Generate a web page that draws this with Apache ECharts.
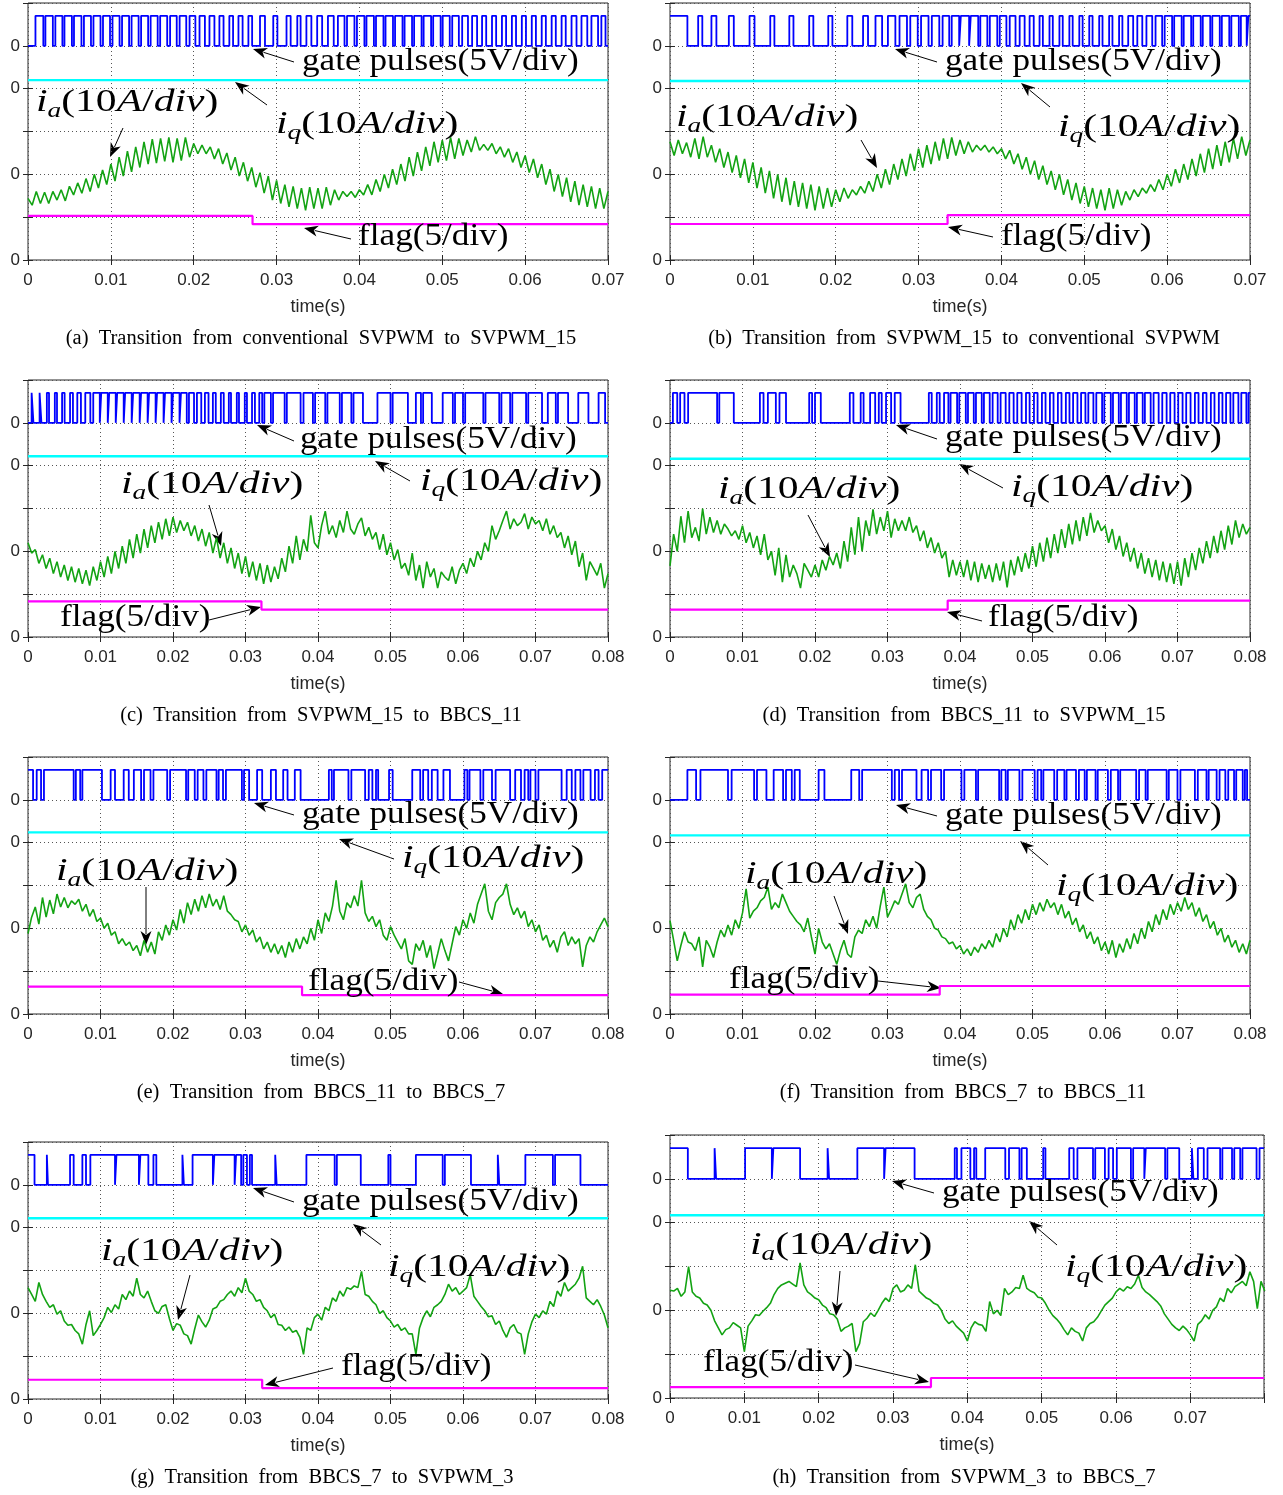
<!DOCTYPE html>
<html>
<head>
<meta charset="utf-8">
<script src="https://cdn.jsdelivr.net/npm/echarts/dist/echarts.min.js"></script>
<style>
html, body { margin: 0; padding: 0; background: #fff; }
#chart { width: 1283px; height: 1495px; }
</style>
</head>
<body>
<div id="chart"></div>
<script>
// sample step of the phase current traces (s)
var ia_dt = 0.0005;

// phase current ia, in divisions, one value every 0.5 ms
var iaA = [0.72,0.64,0.80,0.66,0.79,0.66,0.80,0.70,0.82,0.69,
  0.86,0.76,0.90,0.78,0.95,0.80,1.00,0.84,1.05,0.88,
  1.12,0.92,1.20,0.98,1.27,1.03,1.32,1.08,1.38,1.12,
  1.41,1.13,1.42,1.15,1.43,1.14,1.42,1.16,1.43,1.20,
  1.36,1.24,1.34,1.24,1.32,1.18,1.30,1.12,1.25,1.05,
  1.20,0.98,1.14,0.92,1.08,0.85,1.02,0.78,0.98,0.70,
  0.93,0.66,0.88,0.62,0.86,0.60,0.84,0.58,0.85,0.60,
  0.84,0.60,0.85,0.64,0.82,0.70,0.80,0.74,0.80,0.73,
  0.82,0.76,0.88,0.76,0.94,0.80,1.00,0.84,1.06,0.88,
  1.12,0.92,1.20,0.98,1.26,1.04,1.32,1.10,1.38,1.14,
  1.40,1.16,1.43,1.18,1.42,1.22,1.40,1.26,1.44,1.28,
  1.35,1.28,1.36,1.24,1.32,1.20,1.30,1.14,1.26,1.08,
  1.22,1.02,1.18,0.96,1.12,0.88,1.06,0.80,1.00,0.74,
  0.96,0.68,0.92,0.64,0.88,0.62,0.86,0.60,0.84,0.60,
  0.80];
var iaB = [1.38,1.22,1.40,1.24,1.37,1.20,1.42,1.18,1.44,1.20,
  1.34,1.14,1.30,1.08,1.26,1.02,1.22,0.96,1.18,0.90,
  1.14,0.84,1.08,0.78,1.04,0.72,1.00,0.68,0.96,0.64,
  0.92,0.62,0.90,0.60,0.88,0.58,0.86,0.60,0.84,0.62,
  0.82,0.68,0.84,0.72,0.82,0.76,0.86,0.78,0.92,0.80,
  1.00,0.84,1.06,0.88,1.12,0.94,1.18,0.98,1.24,1.04,
  1.30,1.08,1.34,1.12,1.38,1.16,1.42,1.18,1.43,1.22,
  1.40,1.24,1.38,1.26,1.34,1.28,1.34,1.26,1.32,1.24,
  1.30,1.18,1.28,1.12,1.24,1.06,1.20,1.00,1.16,0.94,
  1.10,0.88,1.04,0.82,1.00,0.76,0.94,0.70,0.90,0.66,
  0.86,0.62,0.84,0.60,0.82,0.58,0.84,0.60,0.82,0.64,
  0.80,0.70,0.82,0.74,0.84,0.78,0.88,0.80,0.94,0.82,
  1.00,0.86,1.06,0.90,1.12,0.94,1.18,0.98,1.24,1.02,
  1.30,1.06,1.34,1.10,1.38,1.14,1.42,1.18,1.44,1.22,
  1.40];
var iaC = [1.10,0.98,1.02,0.86,0.96,0.80,0.92,0.74,0.88,0.70,
  0.84,0.66,0.82,0.64,0.80,0.62,0.78,0.60,0.82,0.66,
  0.88,0.70,0.94,0.74,1.00,0.80,1.06,0.86,1.14,0.92,
  1.20,0.98,1.26,1.04,1.30,1.10,1.34,1.14,1.38,1.18,
  1.40,1.22,1.36,1.24,1.34,1.18,1.30,1.12,1.26,1.06,
  1.22,0.98,1.16,0.92,1.10,0.86,1.04,0.80,0.98,0.74,
  0.94,0.70,0.88,0.66,0.86,0.62,0.84,0.64,0.82,0.68,
  0.92,0.76,1.06,0.86,1.18,0.90,1.14,1.00,1.42,1.10,
  1.04,1.30,1.47,1.20,1.30,1.16,1.36,1.22,1.47,1.26,
  1.20,1.32,1.39,1.18,1.28,1.14,1.22,1.02,1.20,0.96,
  1.10,0.90,1.02,0.80,0.86,0.72,0.98,0.66,0.84,0.57,
  0.88,0.70,0.80,0.57,0.76,0.70,0.66,0.82,0.62,0.78,
  0.86,0.74,0.92,0.82,1.00,0.90,1.10,1.00,1.30,1.14,
  1.24,1.36,1.47,1.26,1.38,1.30,1.34,1.44,1.26,1.40,
  1.32,1.36,1.24,1.38,1.20,1.30,1.16,1.22,1.04,1.18,
  0.96,1.12,0.82,0.98,0.66,0.88,0.80,0.72,0.86,0.57,
  0.74];
var iaD = [0.83,1.20,1.00,1.41,1.10,1.47,1.16,1.28,1.12,1.50,
  1.20,1.40,1.22,1.36,1.20,1.32,1.26,1.18,1.24,1.14,
  1.30,1.10,1.22,1.04,1.18,0.96,1.20,0.90,1.00,0.72,
  1.04,0.64,0.96,0.70,0.84,0.74,0.57,0.86,0.78,0.70,
  0.84,0.70,0.90,0.78,0.94,0.84,0.98,0.80,1.12,0.88,
  1.28,0.96,1.40,1.00,1.36,1.18,1.49,1.20,1.40,1.24,
  1.47,1.16,1.38,1.24,1.36,1.24,1.40,1.22,1.30,1.12,
  1.24,1.04,1.16,0.98,1.10,0.92,1.00,0.70,0.90,0.72,
  0.88,0.70,0.90,0.66,0.88,0.64,0.86,0.68,0.84,0.64,
  0.86,0.66,0.88,0.58,0.90,0.72,0.94,0.76,0.98,0.80,
  1.06,0.82,1.10,0.88,1.16,0.92,1.20,0.98,1.26,1.04,
  1.32,1.08,1.36,1.12,1.40,1.18,1.45,1.22,1.36,1.24,
  1.30,1.10,1.26,1.02,1.18,0.94,1.10,0.88,1.04,0.80,
  0.98,0.74,0.92,0.70,0.90,0.66,0.88,0.64,0.86,0.62,
  0.88,0.60,0.92,0.70,0.98,0.78,1.04,0.86,1.12,0.92,
  1.18,0.98,1.24,1.02,1.30,1.08,1.36,1.16,1.32,1.20,
  1.28];
var iaE = [0.94,1.13,1.25,1.05,1.36,1.13,1.33,1.17,1.40,1.25,
  1.36,1.24,1.32,1.28,1.34,1.20,1.28,1.14,1.22,1.08,
  1.12,1.00,1.06,0.92,0.96,0.82,0.88,0.80,0.84,0.74,
  0.80,0.68,0.86,0.72,0.84,0.70,0.96,0.86,1.04,0.92,
  1.10,0.98,1.22,1.06,1.30,1.16,1.34,1.20,1.38,1.24,
  1.40,1.26,1.34,1.22,1.38,1.20,1.16,1.10,1.08,0.96,
  1.04,0.92,0.98,0.84,0.90,0.76,0.84,0.72,0.82,0.70,
  0.80,0.66,0.84,0.72,0.88,0.76,0.90,0.82,1.00,0.86,
  1.10,0.94,1.18,1.08,1.26,1.56,1.20,1.10,1.30,1.24,
  1.38,1.26,1.56,1.18,1.08,1.14,1.02,1.10,0.92,0.86,
  1.02,0.92,0.84,0.76,0.88,0.62,0.58,0.82,0.74,0.86,
  0.66,0.80,0.53,0.70,0.88,0.74,0.62,0.82,1.02,0.92,
  1.10,1.00,1.18,1.06,1.28,1.40,1.52,1.20,1.10,1.30,
  1.36,1.40,1.52,1.28,1.16,1.24,1.12,1.20,1.02,1.10,
  0.96,1.04,0.86,0.92,0.78,0.86,0.72,0.90,0.96,0.80,
  0.90,0.82,0.88,0.55,0.80,0.90,0.84,0.96,1.04,1.12,
  1.02];
var iaF = [1.09,0.86,0.62,0.80,0.96,0.84,0.82,0.74,0.90,0.55,
  0.86,0.78,0.66,0.84,0.98,0.90,1.04,0.92,1.10,1.00,
  1.18,1.46,1.12,1.20,1.24,1.32,1.36,1.48,1.22,1.30,
  1.24,1.40,1.30,1.20,1.14,1.08,1.04,0.96,1.12,0.90,
  0.70,1.00,0.84,0.76,0.82,0.70,0.58,0.74,0.86,0.70,
  0.66,0.90,0.98,0.94,1.10,1.02,1.14,1.00,1.26,1.48,
  1.13,1.22,1.32,1.28,1.40,1.52,1.30,1.24,1.36,1.40,
  1.22,1.14,1.10,1.00,0.98,0.90,0.88,0.82,0.84,0.76,
  0.80,0.70,0.76,0.68,0.78,0.72,0.82,0.76,0.86,0.78,
  0.94,0.84,1.00,0.90,1.10,0.98,1.16,1.06,1.22,1.10,
  1.28,1.16,1.30,1.20,1.34,1.24,1.30,1.16,1.28,1.12,
  1.20,1.04,1.12,0.96,1.04,0.88,0.96,0.82,0.90,0.74,
  0.84,0.70,0.86,0.66,0.82,0.72,0.88,0.76,0.94,0.82,
  1.00,0.88,1.08,0.96,1.16,1.04,1.22,1.10,1.28,1.16,
  1.30,1.20,1.36,1.22,1.30,1.14,1.24,1.08,1.16,1.00,
  1.08,0.92,1.00,0.84,0.92,0.78,0.86,0.72,0.82,0.70,
  0.86];
var iaG = [1.30,1.22,1.14,1.36,1.22,1.14,1.07,1.10,0.99,1.03,
  0.91,0.86,0.87,0.80,0.76,0.64,0.87,1.03,0.74,0.80,
  0.87,0.95,1.07,1.01,1.10,1.05,1.22,1.16,1.26,1.20,
  1.41,1.22,1.18,1.26,1.14,1.03,1.00,1.08,1.10,0.94,
  0.80,0.88,0.86,0.76,0.74,0.64,0.82,0.98,0.90,0.84,
  0.92,1.05,1.07,1.14,1.16,1.22,1.26,1.20,1.30,1.24,
  1.41,1.26,1.22,1.14,1.16,1.07,1.03,0.95,0.99,0.87,
  0.86,0.80,0.84,0.78,0.80,0.72,0.52,0.83,0.80,0.95,
  0.99,0.92,1.07,1.03,1.18,1.14,1.26,1.20,1.30,1.28,
  1.32,1.30,1.49,1.22,1.20,1.14,1.10,1.00,1.03,0.95,
  0.91,0.84,0.87,0.80,0.83,0.76,0.76,0.52,0.83,0.95,
  1.03,0.96,1.07,1.10,1.14,1.22,1.34,1.26,1.30,1.22,
  1.26,1.30,1.45,1.20,1.14,1.08,1.03,0.96,0.97,0.87,
  0.91,0.80,0.72,0.83,0.87,0.78,0.76,0.52,0.76,0.90,
  0.99,0.95,1.03,0.99,1.14,1.08,1.26,1.20,1.36,1.26,
  1.30,1.34,1.41,1.55,1.18,1.14,1.10,1.16,1.08,0.98,
  0.83];
var iaH = [1.23,1.22,1.25,1.16,1.21,1.50,1.21,1.16,1.14,1.08,
  1.06,1.00,0.88,0.80,0.72,0.78,0.80,0.86,0.83,0.80,
  0.53,0.82,0.88,0.95,0.94,0.99,1.03,1.08,1.18,1.25,
  1.29,1.31,1.33,1.30,1.27,1.54,1.29,1.21,1.18,1.14,
  1.12,1.06,1.03,0.96,0.95,0.90,0.76,0.80,0.82,0.85,
  0.53,0.62,0.87,0.91,0.97,0.93,1.00,1.08,1.14,1.10,
  1.25,1.29,1.21,1.23,1.29,1.25,1.52,1.22,1.18,1.14,
  1.12,1.08,1.06,1.00,0.90,0.85,0.88,0.82,0.78,0.74,
  0.65,0.80,0.87,0.84,0.83,0.76,1.10,0.96,1.00,0.94,
  1.25,1.18,1.21,1.26,1.25,1.40,1.25,1.22,1.20,1.15,
  1.14,1.08,1.00,0.94,0.90,0.85,0.78,0.72,0.80,0.76,
  0.74,0.65,0.80,0.85,0.87,0.92,0.99,1.06,1.10,1.14,
  1.21,1.25,1.22,1.27,1.25,1.30,1.40,1.26,1.21,1.18,
  1.14,1.10,1.05,0.96,0.90,0.84,0.80,0.77,0.82,0.78,
  0.72,0.65,0.84,0.88,0.95,0.90,1.00,1.04,1.14,1.10,
  1.25,1.20,1.27,1.30,1.33,1.28,1.44,1.33,1.02,1.33,
  1.22];

// gate pulses: switching instants (ms), the level toggles at each one
var gateA = [0.9,1.85,2.1,3.0,3.3,4.15,4.4,5.3,5.55,6.45,6.75,7.6,7.9,8.75,9.05,9.9,
  10.2,11.05,11.35,12.2,12.5,13.35,13.65,14.5,14.8,15.65,15.95,16.8,17.15,17.95,18.3,19.1,
  19.5,20.2,20.7,21.35,21.9,22.5,23.1,23.6,24.3,24.75,25.4,25.9,26.6,27.05,28.0,28.6,
  29.6,30.1,31.2,31.7,32.5,32.9,33.6,34.2,34.9,35.5,36.2,36.9,37.4,38.2,38.5,39.4,
  39.7,40.6,40.85,41.75,42.0,42.9,43.15,44.05,44.3,45.2,45.45,46.35,46.6,47.5,47.75,48.65,
  48.9,49.8,50.05,50.9,51.2,52.0,52.4,53.1,53.6,54.2,54.8,55.3,56.0,56.5,57.2,57.7,
  58.4,58.9,59.6,60.1,60.8,61.3,62.0,62.5,63.2,63.7,64.4,64.9,65.6,66.2,66.8,67.5,
  68.0,68.8,69.2,69.7];
var gateB = [2.1,3.4,3.9,5.0,5.6,7.1,7.7,9.6,10.2,12.1,12.6,14.4,14.9,16.8,17.3,19.1,
  19.6,21.4,22.0,23.3,23.9,24.8,25.6,26.3,27.2,27.7,28.6,29.0,29.9,30.3,31.2,31.6,
  32.5,32.9,33.7,34.0,34.9,35.1,36.1,36.3,37.2,37.45,38.3,38.6,39.5,39.8,40.6,41.0,
  41.7,42.2,42.8,43.4,43.9,44.6,45.0,45.8,46.2,47.0,47.4,48.2,48.6,49.4,49.8,50.6,
  51.0,51.8,52.2,53.0,53.4,54.2,54.6,55.3,55.9,56.4,57.0,57.5,58.2,58.6,59.4,59.7,
  60.6,60.85,61.75,62.0,62.9,63.15,64.05,64.3,65.2,65.45,66.35,66.6,67.5,67.75,68.65,68.9,
  69.6,69.8];
var gateC = [0.5,0.75,1.6,1.85,2.6,2.9,3.7,4.0,4.7,5.05,5.8,6.2,6.8,7.3,7.9,8.6,
  9.0,9.9,10.1,11.0,11.2,12.1,12.3,13.2,13.4,14.3,14.5,15.4,15.6,16.5,16.7,17.6,
  17.8,18.7,18.9,19.8,20.0,20.9,21.1,21.9,22.2,22.9,23.3,23.9,24.4,24.9,25.5,25.9,
  26.6,27.0,27.7,28.0,28.8,29.1,29.9,30.2,30.9,31.3,31.9,32.3,32.6,33.5,33.8,35.4,
  35.7,37.6,38.0,39.3,39.6,41.0,41.3,43.0,43.3,44.6,44.9,46.2,48.2,50.0,50.3,52.4,
  53.5,54.2,54.5,55.7,57.2,58.6,58.9,60.0,60.3,62.8,63.1,65.0,65.3,66.5,66.8,68.7,
  69.0,70.9,71.7,72.8,73.1,74.5,75.9,77.3,78.7,79.6];
var gateD = [0.4,1.0,1.4,2.0,2.5,6.5,6.8,8.8,12.4,12.9,13.5,14.6,15.1,16.0,19.2,19.6,
  20.0,20.8,24.8,25.3,26.3,26.7,27.6,28.3,28.8,29.2,29.8,30.5,31.0,31.8,35.7,36.1,
  36.8,37.2,37.8,38.4,38.7,39.6,39.9,40.8,41.1,41.9,42.2,43.0,43.3,44.1,44.5,45.2,
  45.6,46.3,46.8,47.4,47.9,48.5,49.1,49.6,50.2,50.7,51.3,51.8,52.4,52.9,53.5,54.0,
  54.6,55.1,55.6,56.2,56.7,57.3,57.7,58.4,58.8,59.6,59.9,60.8,61.1,61.9,62.2,63.0,
  63.3,64.1,64.4,65.2,65.5,66.3,66.7,67.4,67.9,68.5,69.0,69.6,70.1,70.7,71.2,71.8,
  72.4,72.9,73.5,74.0,74.6,75.1,75.7,76.2,76.7,77.3,77.7,78.4,78.8,79.5,79.8];
var gateE = [0.7,1.2,1.8,2.2,6.3,6.6,7.2,7.5,10.2,11.4,12.0,13.2,13.9,14.6,15.6,16.0,
  16.9,17.3,19.2,19.6,21.8,22.1,23.0,23.4,24.2,24.6,26.0,26.3,26.9,27.3,29.5,29.8,
  30.5,31.6,32.3,33.5,34.2,35.2,35.8,36.8,37.6,41.5,41.9,42.2,44.2,44.6,46.5,47.0,
  47.5,48.0,48.3,49.8,50.3,53.0,54.1,54.5,55.2,55.7,56.5,57.3,58.2,60.2,60.6,60.9,
  62.4,62.8,64.0,64.5,66.5,67.2,68.0,68.5,69.0,69.3,70.0,70.4,73.6,74.3,75.0,75.5,
  76.2,76.6,77.6,78.2,78.7,79.2];
var gateF = [2.4,3.6,4.2,8.0,8.5,11.6,12.0,13.3,14.3,15.6,16.0,16.8,17.2,17.9,20.5,21.3,
  25.0,26.1,26.5,30.6,31.0,31.6,32.0,34.0,34.7,35.6,36.0,37.4,37.8,40.2,40.6,42.2,
  42.5,45.4,45.7,46.3,46.6,48.2,48.6,50.3,50.7,51.2,51.5,53.0,53.4,54.4,54.7,56.0,
  56.4,57.2,57.5,58.7,59.0,60.4,60.8,61.8,62.1,64.3,64.7,65.6,65.9,68.5,68.8,70.0,
  70.4,72.4,72.8,74.0,74.3,75.4,75.8,76.6,77.0,77.8,78.1,79.0,79.3,79.6];
var gateG = [0.9,2.6,2.75,5.8,6.3,7.5,8.0,8.6,12.0,12.2,15.3,15.5,16.6,17.3,17.7,21.3,
  21.5,22.7,25.5,25.7,28.5,28.7,29.4,29.7,30.2,30.6,30.9,34.1,34.3,38.4,42.3,42.6,
  45.9,49.7,50.0,53.5,57.2,57.5,61.1,64.8,65.0,68.6,72.4,72.7,76.2];
var gateH = [2.4,6.0,6.2,10.1,13.7,13.9,17.5,21.2,21.4,25.2,28.8,29.0,32.9,38.3,38.6,39.2,
  40.4,40.9,41.2,42.4,45.1,45.6,47.0,47.3,48.0,50.2,50.5,53.7,54.3,54.8,56.9,57.2,
  58.5,59.0,59.6,60.1,62.0,62.3,63.8,64.0,66.6,66.9,68.5,70.2,70.4,71.0,71.8,72.3,
  74.0,74.3,75.6,75.9,76.7,77.0,78.9,79.3];
var gateStartHigh = [0, 1, 0, 0, 1, 0, 1, 1];
var gateLevels = [2.5, 2.85];

// iq level (div) per panel
var iqLevels = [2.10, 2.09, 2.11, 2.08, 2.12, 2.085, 2.11, 2.085];

// flag: switch instant (ms), level before and after (div)
var flagSwitch = [27.1, 33.5, 32.2, 38.3, 37.8, 37.2, 32.3, 35.1];
var flagBefore = [0.515, 0.42, 0.416, 0.32, 0.32, 0.226, 0.225, 0.125];
var flagAfter = [0.418, 0.525, 0.32, 0.425, 0.22, 0.327, 0.128, 0.228];

var captions = [
  '(a) Transition from conventional SVPWM to SVPWM_15',
  '(b) Transition from SVPWM_15 to conventional SVPWM',
  '(c) Transition from SVPWM_15 to BBCS_11',
  '(d) Transition from BBCS_11 to SVPWM_15',
  '(e) Transition from BBCS_11 to BBCS_7',
  '(f) Transition from BBCS_7 to BBCS_11',
  '(g) Transition from BBCS_7 to SVPWM_3',
  '(h) Transition from SVPWM_3 to BBCS_7'
];

var iaAll = [iaA, iaB, iaC, iaD, iaE, iaF, iaG, iaH];
var gateAll = [gateA, gateB, gateC, gateD, gateE, gateF, gateG, gateH];

// layout of the eight panels (pixels)
var panels = [
  {left: 28, top: 3, w: 580, h: 257, xmax: 0.07, capX: 321, capY: 339},
  {left: 670, top: 3, w: 580, h: 257, xmax: 0.07, capX: 964, capY: 339},
  {left: 28, top: 380, w: 580, h: 257, xmax: 0.08, capX: 321, capY: 716},
  {left: 670, top: 380, w: 580, h: 257, xmax: 0.08, capX: 964, capY: 716},
  {left: 28, top: 757, w: 580, h: 257, xmax: 0.08, capX: 321, capY: 1093},
  {left: 670, top: 757, w: 580, h: 257, xmax: 0.08, capX: 963, capY: 1093},
  {left: 28, top: 1142, w: 580, h: 257, xmax: 0.08, capX: 322, capY: 1478},
  {left: 670, top: 1135, w: 594, h: 263, xmax: 0.0799, capX: 964, capY: 1478}
];

// annotation placement: [textLeft, textMidY, arrowTailX, arrowTailY, arrowTipX, arrowTipY]
// order per panel: gate, iq, ia, flag
var notePos = [
  [[302,62,294,62,253,49],[276,125,267,105,235,82],[36,103,123,128,110,157],[358,237,351,239,304,228]],
  [[945,62,937,62,895,49],[1058,128,1050,107,1021,83],[676,118,861,140,877,168],[1001,237,993,237,948,227]],
  [[300,440,294,441,257,425],[420,482,410,481,375,461],[121,485,209,505,221,546],[60,618,209,620,261,607]],
  [[945,438,937,439,896,425],[1011,488,1003,488,959,464],[718,490,808,515,830,557],[988,618,982,621,947,612]],
  [[302,815,294,815,254,803],[402,859,394,859,339,839],[56,872,146,887,146,945],[308,982,459,982,503,994]],
  [[945,816,937,816,896,805],[1056,887,1048,865,1020,841],[745,875,834,896,848,934],[729,980,878,981,941,988]],
  [[302,1202,294,1202,253,1188],[388,1268,381,1245,353,1224],[101,1252,190,1275,178,1320],[341,1367,333,1368,265,1385]],
  [[942,1193,934,1193,892,1181],[1065,1268,1057,1245,1029,1221],[750,1246,840,1271,836,1316],[703,1363,855,1365,929,1382]]
];

var SANS = 'Liberation Sans, Arial, sans-serif';
var SERIF = 'Liberation Serif, Times New Roman, serif';
var AXIS_COLOR = '#262626';

function gateData(edges, startHigh, tEnd) {
    var lo = gateLevels[0], hi = gateLevels[1];
    var lvl = startHigh ? hi : lo;
    var d = [[0, lvl]];
    edges.forEach(function(ms) {
        var t = ms / 1000;
        d.push([t, lvl]);
        lvl = (lvl === hi) ? lo : hi;
        d.push([t, lvl]);
    });
    d.push([tEnd, lvl]);
    return d;
}

function flagData(k, tEnd) {
    var t = flagSwitch[k] / 1000;
    return [[0, flagBefore[k]], [t, flagBefore[k]], [t, flagAfter[k]], [tEnd, flagAfter[k]]];
}

function lineSeries(idx, data, color, width) {
    return {
        type: 'line', xAxisIndex: idx, yAxisIndex: idx, data: data,
        symbol: 'none', silent: true, animation: false,
        lineStyle: {color: color, width: width}
    };
}

function xLabel(v) {
    if (Math.abs(v * 100 - Math.round(v * 100)) > 1e-6) return '';
    return v === 0 ? '0' : v.toFixed(2);
}

function yLabel(v) {
    return (v === 0 || v === 1 || v === 2 || v === 2.5) ? '0' : '';
}

function arrow(x1, y1, x2, y2) {
    var dx = x2 - x1, dy = y2 - y1;
    var L = Math.sqrt(dx * dx + dy * dy);
    var ux = dx / L, uy = dy / L;
    var hl = 14, hw = 5.5;
    var bx = x2 - ux * hl, by = y2 - uy * hl;
    return [
        {type: 'line', silent: true, shape: {x1: x1, y1: y1, x2: bx + ux * 3, y2: by + uy * 3},
         style: {stroke: '#000', lineWidth: 1}},
        {type: 'polygon', silent: true,
         shape: {points: [[x2, y2], [bx - uy * hw, by + ux * hw], [bx + ux * 4, by + uy * 4], [bx + uy * hw, by - ux * hw]]},
         style: {fill: '#000'}}
    ];
}

var mathRich = {
    it: {fontFamily: SERIF, fontStyle: 'italic', fontSize: 32, fill: '#000'},
    rm: {fontFamily: SERIF, fontSize: 32, fill: '#000'},
    sub: {fontFamily: SERIF, fontStyle: 'italic', fontSize: 21, fill: '#000', padding: [16, 0, 0, 0]}
};

function noteText(kind, x, y) {
    var el = {type: 'text', x: x, y: y, silent: true, z: 10,
              style: {fill: '#000', verticalAlign: 'middle', align: 'left'}};
    if (kind === 0) {
        el.scaleX = 1.1;
        el.style.text = 'gate pulses(5V/div)';
        el.style.font = '32px ' + SERIF;
    } else if (kind === 3) {
        el.scaleX = 1.1;
        el.style.text = 'flag(5/div)';
        el.style.font = '32px ' + SERIF;
    } else {
        el.scaleX = 1.3;
        var s = kind === 1 ? 'q' : 'a';
        el.style.text = '{it|i}{sub|' + s + '}{rm|(10}{it|A}{rm|/}{it|div}{rm|)}';
        el.style.rich = mathRich;
        el.style.font = '32px ' + SERIF;
    }
    return el;
}

var option = {
    animation: false,
    backgroundColor: '#fff',
    grid: [], xAxis: [], yAxis: [], series: [], graphic: []
};

panels.forEach(function(p, k) {
    option.grid.push({
        left: p.left, top: p.top, width: p.w, height: p.h,
        show: true, borderColor: AXIS_COLOR, borderWidth: 1, backgroundColor: '#fff'
    });
    // bottom and top x axes
    option.xAxis.push({
        gridIndex: k, type: 'value', min: 0, max: p.xmax, interval: 0.01,
        axisLine: {show: false},
        axisTick: {inside: true, length: 5, lineStyle: {color: AXIS_COLOR}},
        axisLabel: {margin: 12, fontSize: 17, color: AXIS_COLOR, fontFamily: SANS, formatter: xLabel},
        splitLine: {show: true, lineStyle: {color: '#555', type: [1, 3], width: 1}},
        name: 'time(s)', nameLocation: 'middle', nameGap: 38,
        nameTextStyle: {fontSize: 18, color: AXIS_COLOR, fontFamily: SANS}
    });
    option.xAxis.push({
        gridIndex: k, type: 'value', position: 'top', min: 0, max: p.xmax, interval: 0.01,
        axisLine: {show: false}, axisLabel: {show: false}, splitLine: {show: false},
        axisTick: {inside: true, length: 5, lineStyle: {color: AXIS_COLOR}}
    });
    option.yAxis.push({
        gridIndex: k, type: 'value', min: 0, max: 3, interval: 0.5,
        axisLine: {show: false},
        axisTick: {inside: true, length: 5, lineStyle: {color: AXIS_COLOR}},
        axisLabel: {margin: 8, fontSize: 17, color: AXIS_COLOR, fontFamily: SANS, formatter: yLabel},
        splitLine: {show: true, lineStyle: {color: '#555', type: [1, 3], width: 1}}
    });
    option.yAxis.push({
        gridIndex: k, type: 'value', position: 'right', min: 0, max: 3, interval: 0.5,
        axisLine: {show: false}, axisLabel: {show: false}, splitLine: {show: false},
        axisTick: {inside: true, length: 5, lineStyle: {color: AXIS_COLOR}}
    });

    var idx = 2 * k;
    var ia = iaAll[k].map(function(v, i) { return [i * ia_dt, v]; });
    option.series.push(lineSeries(idx, gateData(gateAll[k], gateStartHigh[k], p.xmax), '#0000ff', 1.8));
    option.series.push(lineSeries(idx, [[0, iqLevels[k]], [p.xmax, iqLevels[k]]], '#00ffff', 2.4));
    option.series.push(lineSeries(idx, ia, '#13a313', 1.6));
    option.series.push(lineSeries(idx, flagData(k, p.xmax), '#ff00ff', 2.2));

    // caption set with wider word spacing, as in the typeset figure
    option.graphic.push({
        type: 'text', x: p.capX, y: p.capY, silent: true,
        style: {text: captions[k].replace(/ /g, '\u2002'), font: '20.5px ' + SERIF, fill: '#000',
                align: 'center', verticalAlign: 'middle'}
    });
    notePos[k].forEach(function(n, kind) {
        option.graphic.push(noteText(kind, n[0], n[1]));
        arrow(n[2], n[3], n[4], n[5]).forEach(function(el) { option.graphic.push(el); });
    });
});

var myChart = echarts.init(document.getElementById('chart'));
myChart.setOption(option);
</script>
</body>
</html>
